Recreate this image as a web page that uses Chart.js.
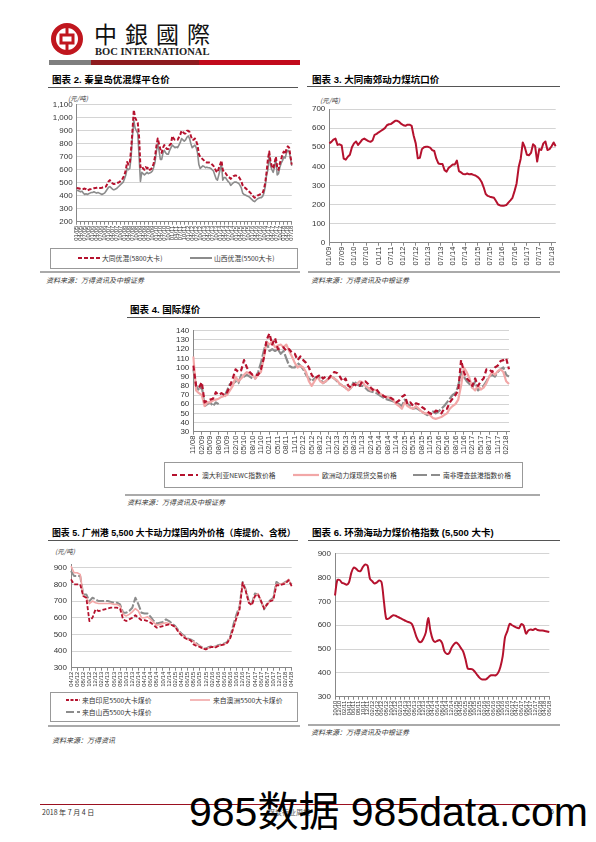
<!DOCTYPE html>
<html><head><meta charset="utf-8">
<script src="https://cdn.jsdelivr.net/npm/chart.js@4.4.1/dist/chart.umd.min.js"></script>
<style>
body{margin:0;width:596px;height:842px;position:relative;background:#fff;overflow:hidden;font-family:"Liberation Sans","Noto Sans CJK SC",sans-serif}
.a{position:absolute;white-space:nowrap}
.tt{font-weight:bold;font-size:9.5px;line-height:10px;color:#000;font-family:"Liberation Sans","Noto Sans CJK SC",sans-serif}
.ln{position:absolute;height:1px;background:#555}
.sl{position:absolute;height:2px;background:#aaa}
.src{font-size:7px;line-height:8px;color:#333;font-style:italic;font-family:"Noto Sans CJK SC",sans-serif}
.unit{font-size:6.5px;line-height:7px;color:#333;font-style:italic;font-family:"Noto Sans CJK SC",sans-serif}
.lg{position:absolute;border:1px solid #999;box-sizing:border-box}
.lt{font-size:6.8px;line-height:8px;color:#333;font-family:"Noto Sans CJK SC",sans-serif}
canvas{position:absolute}
</style></head><body>

<!-- header -->
<svg class="a" style="left:50px;top:22px" width="36" height="36" viewBox="0 0 36 36">
<circle cx="17" cy="17" r="13.5" fill="none" stroke="#c0161e" stroke-width="5"/>
<rect x="11" y="13" width="12" height="8" fill="none" stroke="#c0161e" stroke-width="3"/>
<line x1="17" y1="4" x2="17" y2="13" stroke="#c0161e" stroke-width="3"/>
<line x1="17" y1="21" x2="17" y2="30" stroke="#c0161e" stroke-width="3"/>
</svg>
<div class="a" style="left:94px;top:20px;font-size:23px;line-height:26px;letter-spacing:8px;font-family:'Noto Sans CJK TC',sans-serif;color:#111">中銀國際</div>
<div class="a" style="left:95px;top:46px;font-size:10.5px;line-height:11px;font-weight:bold;font-family:'Liberation Serif',serif;color:#222">BOC INTERNATIONAL</div>
<div class="a" style="left:49px;top:60px;width:42px;height:5px;background:#7f7f7f"></div>
<div class="a" style="left:91px;top:60px;width:108px;height:5px;background:#8e1b1f"></div>
<div class="a" style="left:199px;top:60px;width:101px;height:5px;background:#c20a1c"></div>

<!-- chart 2 -->
<div class="a tt" style="left:52px;top:75px">图表 2. 秦皇岛优混煤平仓价</div>
<div class="ln" style="left:48px;top:87px;width:250px"></div>
<div class="a unit" style="left:68px;top:95px">(元/吨)</div>
<canvas id="c2" width="260" height="152" style="left:40px;top:96px"></canvas>
<div class="lg" style="left:50px;top:248px;width:248px;height:21px"></div>
<svg class="a" style="left:78px;top:255px" width="22" height="6"><line x1="0" y1="3" x2="22" y2="3" stroke="#b5122e" stroke-width="2" stroke-dasharray="4 2"/></svg>
<div class="a lt" style="left:102px;top:254px">大同优混(5800大卡)</div>
<svg class="a" style="left:190px;top:255px" width="22" height="6"><line x1="0" y1="3" x2="22" y2="3" stroke="#8c8c8c" stroke-width="2"/></svg>
<div class="a lt" style="left:214px;top:254px">山西优混(5500大卡)</div>
<div class="sl" style="left:40px;top:271px;width:260px"></div>
<div class="a src" style="left:46px;top:276px">资料来源：万得资讯及中银证券</div>

<!-- chart 3 -->
<div class="a tt" style="left:312px;top:75px">图表 3. 大同南郊动力煤坑口价</div>
<div class="ln" style="left:307px;top:86px;width:253px"></div>
<div class="a unit" style="left:320px;top:97px">(元/吨)</div>
<canvas id="c3" width="260" height="168" style="left:305px;top:100px"></canvas>
<div class="sl" style="left:308px;top:271px;width:252px"></div>
<div class="a src" style="left:311px;top:276px">资料来源：万得资讯及中银证券</div>

<!-- chart 4 -->
<div class="a tt" style="left:130px;top:305px">图表 4. 国际煤价</div>
<div class="ln" style="left:127px;top:317px;width:413px"></div>
<canvas id="c4" width="370" height="138" style="left:150px;top:322px"></canvas>
<div class="lg" style="left:164px;top:462px;width:359px;height:26px"></div>
<svg class="a" style="left:172px;top:472px" width="26" height="6"><line x1="0" y1="3" x2="26" y2="3" stroke="#b5122e" stroke-width="2.2" stroke-dasharray="5 3"/></svg>
<div class="a lt" style="left:202px;top:471px">澳大利亚NEWC指数价格</div>
<svg class="a" style="left:293px;top:472px" width="26" height="6"><line x1="0" y1="3" x2="26" y2="3" stroke="#f2a7a7" stroke-width="2.2"/></svg>
<div class="a lt" style="left:322px;top:471px">欧洲动力煤现货交易价格</div>
<svg class="a" style="left:413px;top:472px" width="27" height="6"><line x1="0" y1="3" x2="27" y2="3" stroke="#8c8c8c" stroke-width="2.2" stroke-dasharray="14 4"/></svg>
<div class="a lt" style="left:443px;top:471px">南非理查兹港指数价格</div>
<div class="sl" style="left:125px;top:494px;width:415px"></div>
<div class="a src" style="left:127px;top:498px">资料来源：万得资讯及中银证券</div>

<!-- chart 5 -->
<div class="a tt" style="left:52px;top:528px;font-size:8.9px">图表 5. 广州港 5,500 大卡动力煤国内外价格（库提价、含税）</div>
<div class="ln" style="left:48px;top:540px;width:250px"></div>
<div class="a unit" style="left:55px;top:548px">(元/吨)</div>
<canvas id="c5" width="260" height="137" style="left:40px;top:555px"></canvas>
<div class="lg" style="left:50px;top:692px;width:248px;height:30px"></div>
<svg class="a" style="left:66px;top:697px" width="14" height="6"><line x1="0" y1="3" x2="14" y2="3" stroke="#b5122e" stroke-width="2" stroke-dasharray="3 1.5"/></svg>
<div class="a lt" style="left:82px;top:696px">来自印尼5500大卡煤价</div>
<svg class="a" style="left:190px;top:697px" width="20" height="6"><line x1="0" y1="3" x2="20" y2="3" stroke="#f2a7a7" stroke-width="1.6"/></svg>
<div class="a lt" style="left:213px;top:696px">来自澳洲5500大卡煤价</div>
<svg class="a" style="left:66px;top:709px" width="14" height="6"><line x1="0" y1="3" x2="14" y2="3" stroke="#8c8c8c" stroke-width="2" stroke-dasharray="8 3"/></svg>
<div class="a lt" style="left:82px;top:708px">来自山西5500大卡煤价</div>
<div class="sl" style="left:48px;top:725px;width:252px"></div>
<div class="a src" style="left:52px;top:736px">资料来源：万得资讯</div>

<!-- chart 6 -->
<div class="a tt" style="left:312px;top:528px">图表 6. 环渤海动力煤价格指数 (5,500 大卡)</div>
<div class="ln" style="left:308px;top:540px;width:252px"></div>
<canvas id="c6" width="260" height="174" style="left:305px;top:545px"></canvas>
<div class="sl" style="left:308px;top:724px;width:252px"></div>
<div class="a src" style="left:311px;top:728px">资料来源：万得资讯及中银证券</div>

<!-- footer -->
<div class="a" style="left:40px;top:804px;width:516px;height:1px;background:#9b1020"></div>
<div class="a" style="left:42px;top:808px;font-size:7px;line-height:8px;color:#333;font-family:'Noto Sans CJK SC',sans-serif">2018 年 7 月 4 日</div>
<div class="a" style="left:268px;top:808px;font-size:7px;line-height:8px;color:#555;font-family:'Noto Sans CJK SC',sans-serif">煤炭行业周报</div>
<div class="a" style="left:550px;top:808px;font-size:7px;line-height:8px;color:#333">6</div>
<div class="a" style="left:189px;top:789px;font-size:41px;line-height:46px;color:#000;font-family:'Liberation Sans','Noto Sans CJK SC',sans-serif">985数据 985data.com</div>

<script>
// ---------- data ----------
function monthLabels(y, m, n){const o=[];for(let i=0;i<n;i++){const mm=(m-1+i)%12+1,yy=y+Math.floor((m-1+i)/12);o.push(String(mm).padStart(2,'0')+'/'+String(yy%100).padStart(2,'0'));}return o;}

// Chart 2: Qinhuangdao, monthly 2005-01 .. 2018-07
const C2_LABELS = monthLabels(2005, 1, 163);
const C2_DATONG = [460,458,455,452,450,452,455,450,440,445,
450,452,455,458,460,462,465,462,460,462,
465,468,470,490,510,520,500,495,490,492,
495,500,505,512,520,540,560,600,660,640,
650,760,900,1060,1000,980,960,850,620,630,
610,600,620,610,620,600,605,620,650,700,
780,840,800,760,730,770,790,770,760,760,
790,800,860,840,830,830,830,850,870,900,
890,880,880,900,900,890,860,830,830,840,
820,790,720,700,690,680,670,660,655,655,
655,650,640,630,610,590,580,610,640,670,
600,580,575,560,545,540,530,540,550,555,
555,550,545,530,510,480,465,460,450,440,
430,420,410,395,385,390,400,405,410,415,
420,450,500,580,680,740,660,630,610,650,
700,620,600,650,680,720,740,720,760,780,
770,700,640];
const C2_SHANXI = [440,440,435,430,435,420,410,415,410,415,
420,425,425,430,425,420,425,420,415,410,
415,420,435,450,465,470,460,450,445,450,
455,465,475,485,495,505,530,560,610,600,
610,700,860,980,920,900,880,700,510,580,
570,560,570,580,570,575,580,590,620,660,
740,800,750,680,680,730,750,730,720,720,
750,770,790,780,770,775,770,790,810,840,
830,820,830,850,860,840,800,770,780,790,
770,730,640,610,620,630,625,615,620,615,
615,610,600,590,560,530,520,560,600,650,
520,540,540,525,510,500,480,490,500,505,
505,500,495,480,460,420,410,405,400,395,
390,380,370,360,355,365,375,380,385,385,
395,420,470,560,600,720,630,600,580,620,
690,560,570,620,650,670,700,690,730,750,
740,690,630];

// Chart 3: Datong pit-mouth price, monthly 2009-01 .. 2018-03
const C3_LABELS = monthLabels(2009, 1, 111);
const C3_PRICE = [520,528,540,545,512,515,510,440,435,450,
460,500,520,530,512,525,540,545,538,532,
528,535,565,570,578,585,592,600,615,620,
622,630,638,638,632,622,615,612,618,618,
612,560,520,442,445,490,500,502,502,498,
485,480,440,415,412,412,380,372,392,400,
410,410,430,375,368,360,358,362,358,360,
355,352,345,335,318,290,255,245,241,238,
235,218,200,195,193,194,197,210,222,235,
270,310,395,440,525,500,460,458,470,515,
505,425,490,486,520,530,485,490,505,525,
505];

// Chart 4: international coal, monthly 2008-11 .. 2018-03
const C4_LABELS = monthLabels(2008, 11, 113);
const C4_NEWC = [102,80,78,84,62,64,65,66,73,70,
72,70,73,80,88,98,95,97,108,100,
95,92,92,92,98,110,130,137,125,132,
120,121,122,118,120,116,115,108,112,108,
105,100,92,88,90,92,88,90,88,92,
95,94,90,85,88,80,78,82,80,80,
85,85,82,78,75,76,72,70,68,67,
67,65,62,64,68,70,60,62,58,61,
60,57,55,52,50,49,53,52,50,55,
55,62,66,70,75,108,95,88,85,80,
88,80,85,88,98,98,95,100,102,107,
108,110,98];
const C4_EUROPE = [112,75,72,70,58,62,62,64,65,66,
68,69,70,75,80,90,85,88,92,95,
93,92,88,92,95,110,128,125,128,122,
124,125,122,125,118,112,105,100,102,100,
95,85,80,85,90,85,83,85,88,90,
88,86,82,80,78,75,78,82,82,85,
84,80,78,75,76,75,72,70,68,68,
66,64,60,58,55,62,58,56,55,58,
55,52,50,50,48,45,44,45,46,48,
50,55,58,60,65,80,100,95,88,78,
75,80,76,78,83,90,95,92,96,98,
95,85,82];
const C4_RICHARDS = [98,80,75,80,58,60,62,58,62,60,
null,68,75,82,82,85,83,92,90,92,
90,88,88,95,105,118,128,118,120,118,
120,115,118,110,102,100,100,105,102,98,
92,88,85,88,90,88,83,85,88,90,
88,85,82,80,78,75,78,85,82,80,
80,78,75,74,73,72,70,68,66,65,
64,63,62,60,58,65,60,58,55,56,
54,52,50,48,50,52,50,52,55,58,
62,66,70,72,80,95,90,85,82,78,
85,75,78,80,85,90,92,90,95,98,
100,92,90];

// Chart 5: Guangzhou port, monthly 2012-04 .. 2018-04
const C5_LABELS = monthLabels(2012, 4, 73);
const C5_INDONESIA = [830,800,800,800,730,720,580,600,650,640,
645,650,655,660,660,660,655,590,580,590,
600,615,600,585,585,580,570,555,540,545,
550,555,560,555,545,515,495,480,470,465,
440,430,425,415,410,420,425,420,430,435,
440,450,480,540,600,650,810,760,690,675,
730,740,700,655,680,700,705,795,795,800,
805,825,790];
const C5_AUSTRALIA = [910,870,870,860,730,720,685,700,690,685,
685,685,685,685,680,680,670,620,610,620,
635,655,640,600,600,605,590,570,555,560,
565,570,565,555,545,520,500,485,470,465,
455,440,430,415,410,420,425,425,430,435,
440,450,480,540,600,660,810,760,690,680,
730,745,700,660,680,700,710,800,800,805,
810,830,790];
const C5_SHANXI = [880,850,850,850,740,740,700,720,710,700,
700,700,700,695,690,690,680,630,630,640,
660,720,680,630,625,625,605,580,565,570,
575,590,580,565,550,525,505,490,475,470,
460,445,430,420,415,425,430,425,435,440,
445,455,490,560,620,670,815,770,700,685,
745,740,700,650,685,705,720,815,800,805,
815,825,800];

// Chart 6: BSPI 5500, monthly 2010-10 .. 2018-06
const C6_LABELS = monthLabels(2010, 10, 93);
const C6_INDEX = [725,790,790,778,775,770,780,820,842,838,
828,828,845,855,850,795,785,775,780,788,
780,700,627,628,635,642,640,635,630,625,
620,615,612,605,580,550,532,530,545,570,
630,575,540,530,535,538,525,490,480,483,
505,520,528,520,505,490,458,418,416,415,
405,392,380,373,372,374,383,390,390,390,
400,425,470,550,575,606,600,595,590,588,
605,598,565,578,582,580,585,580,578,578,
576,574,572];

// ---------- styles ----------
const RED='#b5122e', GRAY='#8c8c8c', PINK='#f2a7a7';
Chart.defaults.font.family = "'Liberation Sans', Arial, sans-serif";
Chart.defaults.color = '#333';

function build(id, o){
  new Chart(document.getElementById(id), {
    type:'line',
    data:{labels:o.labels, datasets:o.datasets.map(d=>Object.assign({pointRadius:0,fill:false,tension:o.tension||0,borderJoinStyle:'round',spanGaps:false},d))},
    options:{
      responsive:false, animation:false, devicePixelRatio:1,
      layout:{padding:{left:0,right:o.padR,top:o.padT,bottom:0}},
      plugins:{legend:{display:false},tooltip:{enabled:false}},
      scales:{
        x:{
          grid:{drawOnChartArea:false,drawTicks:true,tickLength:3,tickColor:'#888'},
          border:{color:'#888',width:1},
          ticks:{autoSkip:false,maxRotation:90,minRotation:90,padding:1,font:{size:o.xFont},color:'#333',
            callback:function(v,i){return (i%o.every===0)?this.getLabelForValue(v):null;}},
          afterFit:s=>{s.height=o.xH;}
        },
        y:{
          min:o.yMin,max:o.yMax,
          grid:{color:'#d4d4d4',lineWidth:1,drawTicks:false},
          border:{color:'#888',width:1},
          ticks:{stepSize:o.yStep,autoSkip:false,includeBounds:false,padding:4,font:{size:o.yFont},color:'#333',
            callback:v=>o.comma?v.toLocaleString('en-US'):v},
          afterFit:s=>{s.width=o.yW;}
        }
      }
    }
  });
}

build('c2',{labels:C2_LABELS,every:3,xFont:6,yFont:8,yMin:200,yMax:1100,yStep:100,comma:true,
  yW:36.7,xH:26.3,padR:3.3,padT:8,
  datasets:[
    {data:C2_DATONG,borderColor:RED,borderWidth:2,borderDash:[4,2]},
    {data:C2_SHANXI,borderColor:GRAY,borderWidth:1.6}
  ]});

build('c3',{labels:C3_LABELS,every:6,xFont:7.5,yFont:8,yMin:0,yMax:700,yStep:100,
  yW:24.3,xH:25.3,padR:9.3,padT:9,
  datasets:[{data:C3_PRICE,borderColor:RED,borderWidth:2}]});

build('c4',{labels:C4_LABELS,every:3,xFont:7.5,yFont:8,yMin:30,yMax:140,yStep:10,
  yW:43.3,xH:28.3,padR:11,padT:8.7,
  datasets:[
    {data:C4_NEWC,borderColor:RED,borderWidth:2.2,borderDash:[5,3]},
    {data:C4_EUROPE,borderColor:PINK,borderWidth:2.2},
    {data:C4_RICHARDS,borderColor:GRAY,borderWidth:2.2,borderDash:[10,2]}
  ]});

build('c5',{labels:C5_LABELS,every:2,xFont:6,yFont:8,yMin:300,yMax:920,yStep:100,
  yW:31,xH:24.3,padR:8.3,padT:9.4,
  datasets:[
    {data:C5_INDONESIA,borderColor:RED,borderWidth:1.8,borderDash:[4,2]},
    {data:C5_AUSTRALIA,borderColor:PINK,borderWidth:1.6},
    {data:C5_SHANXI,borderColor:GRAY,borderWidth:2,borderDash:[8,2]}
  ]});

build('c6',{labels:C6_LABELS,every:2,xFont:6,yFont:8,yMin:300,yMax:900,yStep:100,tension:0.3,
  yW:30,xH:22.3,padR:15.7,padT:7.3,
  datasets:[{data:C6_INDEX,borderColor:RED,borderWidth:2}]});
</script>
</body></html>
